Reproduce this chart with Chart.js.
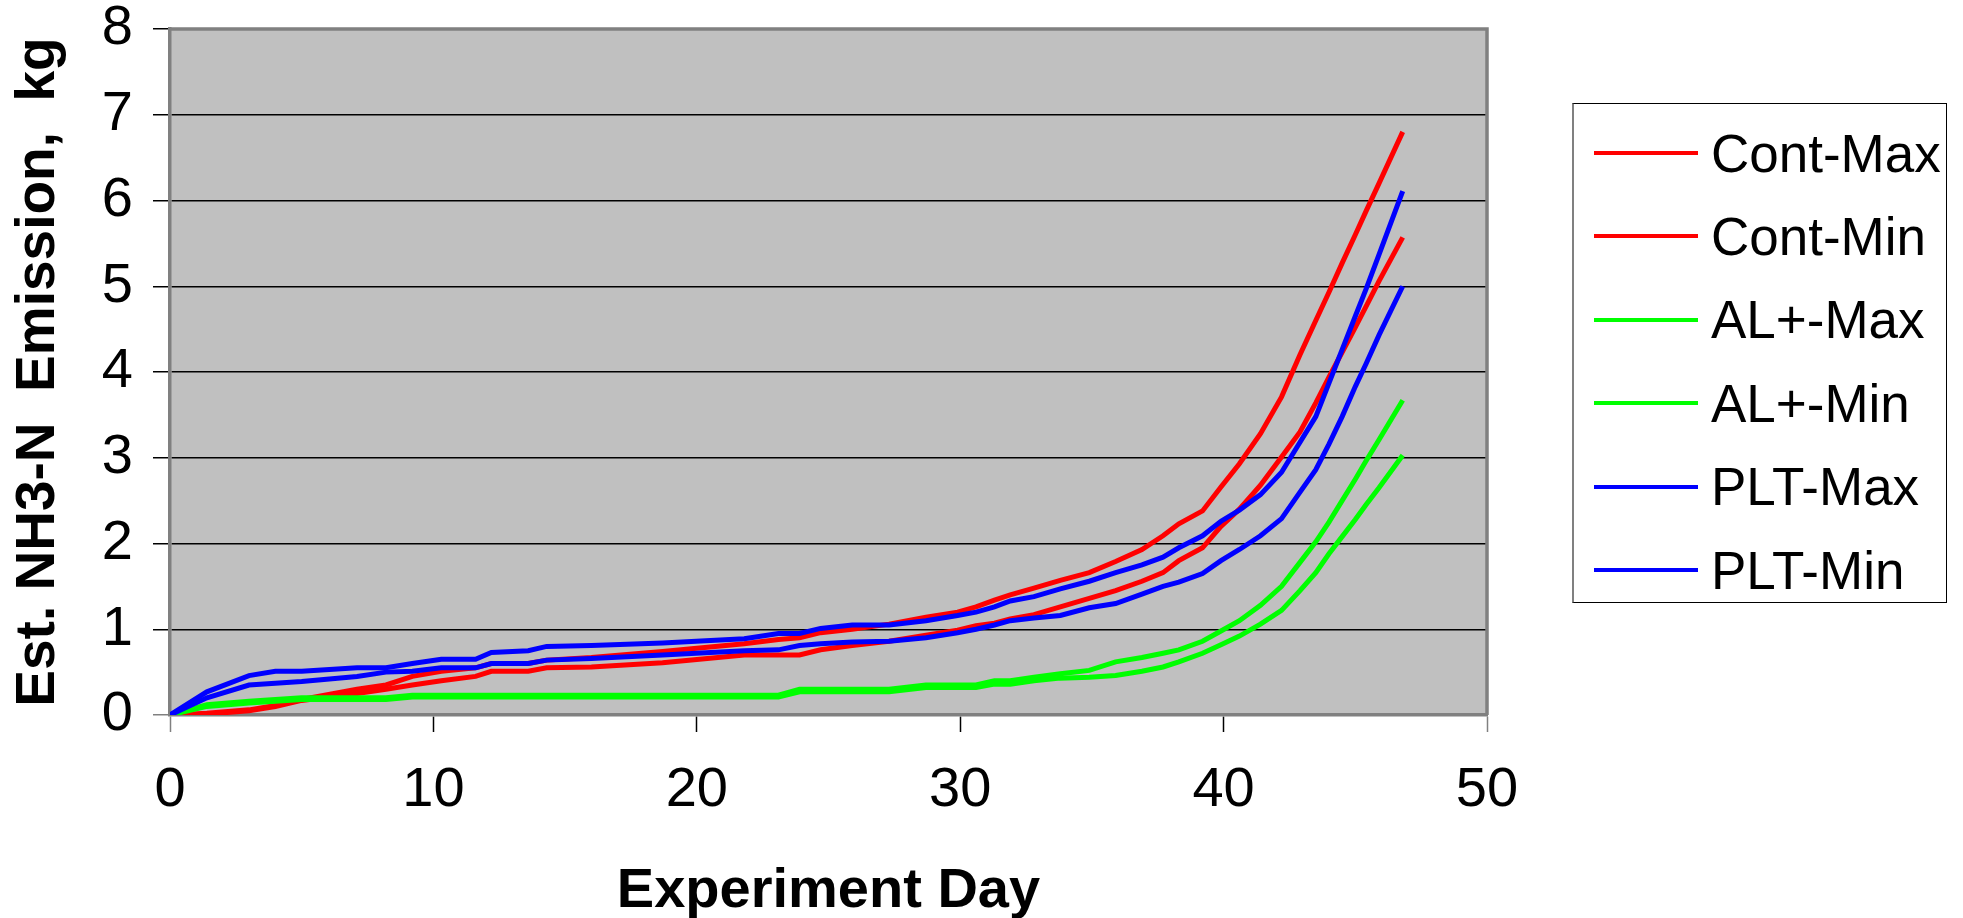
<!DOCTYPE html>
<html>
<head>
<meta charset="utf-8">
<script src="https://cdn.jsdelivr.net/npm/chart.js@4.4.1/dist/chart.umd.min.js"></script>
<style>
  html, body { margin: 0; padding: 0; background: #fff; }
  #wrap { position: relative; width: 1963px; height: 918px; }
  #legend {
    position: absolute; left: 1572px; top: 103px; width: 375px; height: 500px;
    box-sizing: border-box; border: 1.5px solid #000; border-left: 2px solid #808080;
    font-family: 'Liberation Sans', Arial, sans-serif; background: #fff;
  }
  .item { position: absolute; left: 0; height: 60px; display: flex; align-items: center; }
  .swatch { margin-left: 20px; width: 104px; height: 4px; }
  .label { margin-left: 13px; font-size: 53px; line-height: 1; color: #000; white-space: nowrap; }
</style>
</head>
<body>
<div id="wrap">
  <canvas id="chart" width="1963" height="918"></canvas>
  <div id="legend"></div>
</div>
<script>
// measurement days (x)
const days = [0, 1.4, 3.0, 4.0, 5.0, 7.1, 8.2, 9.2, 10.3, 11.6, 12.2, 13.6, 14.3, 16.0, 18.7, 21.8,
  23.1, 23.9, 24.7, 25.9, 27.3, 28.7, 29.9, 30.6, 31.3, 31.9, 32.8, 33.8, 34.9, 35.9, 36.9, 37.7,
  38.3, 39.2, 39.9, 40.6, 41.4, 42.2, 42.9, 43.5, 44.0, 44.5, 45.0, 45.4, 45.9, 46.8];

// cumulative NH3-N emission, kg
const contMax = [0, 0.02, 0.06, 0.11, 0.18, 0.30, 0.35, 0.45, 0.51, 0.55, 0.60, 0.60, 0.64, 0.67, 0.74, 0.83,
  0.88, 0.90, 0.96, 1.00, 1.06, 1.14, 1.20, 1.26, 1.34, 1.40, 1.48, 1.57, 1.66, 1.79, 1.93, 2.09,
  2.23, 2.38, 2.66, 2.93, 3.28, 3.71, 4.20, 4.60, 4.93, 5.27, 5.60, 5.87, 6.20, 6.80];
const contMin = [0, 0.01, 0.05, 0.10, 0.17, 0.25, 0.30, 0.35, 0.40, 0.45, 0.51, 0.51, 0.55, 0.56, 0.61, 0.70,
  0.70, 0.70, 0.76, 0.81, 0.86, 0.93, 0.99, 1.04, 1.07, 1.12, 1.17, 1.26, 1.36, 1.45, 1.56, 1.66,
  1.80, 1.95, 2.20, 2.40, 2.68, 3.01, 3.30, 3.64, 3.94, 4.23, 4.52, 4.76, 5.06, 5.57];
const alMax = [0, 0.12, 0.16, 0.18, 0.20, 0.20, 0.20, 0.23, 0.23, 0.23, 0.23, 0.23, 0.23, 0.23, 0.23, 0.23,
  0.23, 0.30, 0.30, 0.30, 0.30, 0.35, 0.35, 0.35, 0.40, 0.40, 0.44, 0.48, 0.52, 0.62, 0.67, 0.72,
  0.76, 0.86, 0.98, 1.10, 1.28, 1.50, 1.78, 2.02, 2.25, 2.50, 2.75, 2.96, 3.21, 3.67];
const alMin = [0, 0.10, 0.14, 0.16, 0.18, 0.18, 0.18, 0.21, 0.21, 0.21, 0.21, 0.21, 0.21, 0.21, 0.21, 0.21,
  0.21, 0.27, 0.27, 0.27, 0.27, 0.32, 0.32, 0.32, 0.36, 0.36, 0.40, 0.43, 0.44, 0.46, 0.51, 0.56,
  0.62, 0.72, 0.82, 0.92, 1.06, 1.22, 1.45, 1.66, 1.88, 2.08, 2.28, 2.45, 2.65, 3.03];
const pltMax = [0, 0.27, 0.46, 0.51, 0.51, 0.55, 0.55, 0.60, 0.65, 0.65, 0.73, 0.75, 0.80, 0.81, 0.84, 0.89,
  0.95, 0.95, 1.01, 1.05, 1.05, 1.10, 1.16, 1.20, 1.26, 1.33, 1.38, 1.47, 1.56, 1.66, 1.75, 1.84,
  1.95, 2.09, 2.26, 2.39, 2.57, 2.83, 3.18, 3.48, 3.87, 4.26, 4.65, 4.96, 5.37, 6.11];
const pltMin = [0, 0.20, 0.35, 0.37, 0.39, 0.45, 0.50, 0.51, 0.55, 0.55, 0.60, 0.60, 0.64, 0.66, 0.70, 0.75,
  0.76, 0.81, 0.83, 0.85, 0.86, 0.90, 0.96, 1.00, 1.05, 1.10, 1.13, 1.16, 1.25, 1.30, 1.41, 1.50,
  1.55, 1.65, 1.80, 1.93, 2.09, 2.29, 2.60, 2.86, 3.16, 3.48, 3.83, 4.09, 4.43, 5.00];

const seriesNames = ['Cont-Max', 'Cont-Min', 'AL+-Max', 'AL+-Min', 'PLT-Max', 'PLT-Min'];
const seriesValues = [contMax, contMin, alMax, alMin, pltMax, pltMin];
const seriesColors = ['#ff0000', '#ff0000', '#00ff00', '#00ff00', '#0000ff', '#0000ff'];

const FONT = "'Liberation Sans', Arial, sans-serif";
Chart.defaults.font.family = FONT;
Chart.defaults.color = '#000';

// grey plot area + frame on top/right
const plotFrame = {
  id: 'plotFrame',
  beforeDraw(chart) {
    const {ctx, chartArea: a} = chart;
    ctx.save();
    ctx.fillStyle = '#c0c0c0';
    ctx.fillRect(a.left, a.top, a.right - a.left, a.bottom - a.top);
    ctx.restore();
  },
  beforeDatasetsDraw(chart) {
    const {ctx, chartArea: a} = chart;
    ctx.save();
    ctx.strokeStyle = '#808080';
    ctx.lineWidth = 3.5;
    ctx.beginPath();
    ctx.moveTo(a.left, a.top);
    ctx.lineTo(a.right, a.top);
    ctx.lineTo(a.right, a.bottom);
    ctx.stroke();
    ctx.restore();
  }
};

const datasets = seriesNames.map((name, i) => ({
  label: name,
  data: days.map((d, j) => ({x: d, y: seriesValues[i][j]})),
  borderColor: seriesColors[i],
  borderWidth: 5,
  pointRadius: 0,
  tension: 0,
  fill: false,
  order: 6 - i
}));

new Chart(document.getElementById('chart'), {
  type: 'line',
  data: { datasets },
  plugins: [plotFrame],
  options: {
    responsive: false,
    animation: false,
    devicePixelRatio: 1,
    layout: { padding: { left: 0, top: 29, right: 476, bottom: 0 } },
    plugins: {
      legend: { display: false },
      tooltip: { enabled: false }
    },
    scales: {
      x: {
        type: 'linear',
        min: 0,
        max: 50,
        afterFit: (s) => { s.height = 203; s.paddingLeft = 0; s.paddingRight = 0; },
        ticks: { stepSize: 10, padding: 25, font: { size: 56 }, maxRotation: 0 },
        grid: {
          drawOnChartArea: false,
          tickLength: 17,
          tickWidth: 1.5,
          tickColor: (c) => (c.tick.value === 0 || c.tick.value === 50) ? '#808080' : '#000'
        },
        border: { color: '#808080', width: 3.5 },
        title: { display: true, text: 'Experiment Day', font: { size: 56, weight: 'bold' }, padding: { top: 0, bottom: -7 } }
      },
      y: {
        min: 0,
        max: 8,
        afterFit: (s) => { s.width = 170; s.paddingTop = 0; s.paddingBottom = 0; },
        ticks: { stepSize: 1, padding: 20, font: { size: 56 } },
        grid: {
          color: '#000',
          lineWidth: 1.5,
          tickLength: 17,
          tickColor: (c) => c.tick.value === 0 ? '#808080' : '#000'
        },
        border: { color: '#808080', width: 3.5 },
        title: { display: true, text: 'Est. NH3-N  Emission,  kg', font: { size: 55, weight: 'bold' }, padding: { top: 6, bottom: 0 } }
      }
    }
  }
});

// legend box
const legend = document.getElementById('legend');
seriesNames.forEach((name, i) => {
  const row = document.createElement('div');
  row.className = 'item';
  row.style.top = (19 + i * 83.4) + 'px';
  const sw = document.createElement('span');
  sw.className = 'swatch';
  sw.style.background = seriesColors[i];
  const lb = document.createElement('span');
  lb.className = 'label';
  lb.textContent = name;
  row.appendChild(sw);
  row.appendChild(lb);
  legend.appendChild(row);
});
</script>
</body>
</html>
